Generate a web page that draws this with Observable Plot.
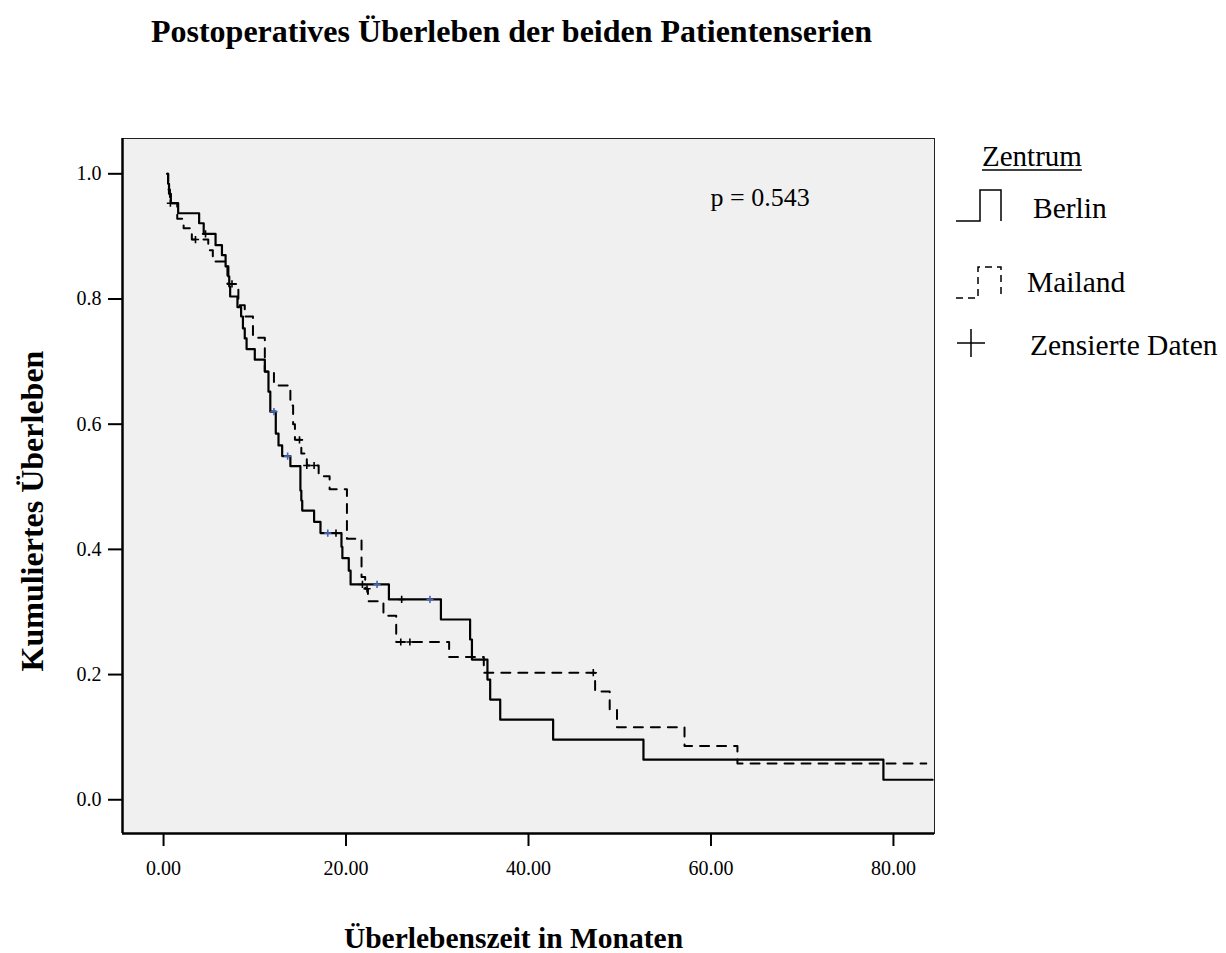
<!DOCTYPE html>
<html><head><meta charset="utf-8">
<script src="https://cdn.jsdelivr.net/npm/d3@7"></script>
<script src="https://cdn.jsdelivr.net/npm/@observablehq/plot@0.6"></script>
<style>
body{margin:0;background:#fff;font-family:"Liberation Serif","Times New Roman",serif;color:#000;}
#wrap{position:relative;width:1226px;height:953px;}
#title{height:60px;width:1023px;text-align:center;line-height:62px;font-weight:bold;font-size:32px;}
#legend{position:absolute;left:940px;top:120px;overflow:visible;}
</style></head><body>
<div id="wrap"><div id="title">Postoperatives Überleben der beiden Patientenserien</div><div id="chart"></div><svg id="legend" width="286" height="260"></svg></div>
<script>
// axis ticks and domains
const xTicks = [0, 20, 40, 60, 80];
const yTicks = [0, 0.2, 0.4, 0.6, 0.8, 1.0];
const xDomain = [-4.5, 84.5];
const yDomain = [-0.0539, 1.0564];

// Berlin Kaplan-Meier steps (month, cumulative survival after step)
const berlinTime = [0.4,0.5,0.6,0.8,1.6,3.9,4.4,5.7,6.4,6.8,7.1,7.2,7.3,8.1,8.5,8.7,8.9,9.1,10.0,11.1,11.5,11.7,12.3,12.6,13.0,13.9,15.0,15.1,15.2,16.5,17.2,19.5,19.6,20.3,20.5,24.7,30.4,33.6,33.8,35.5,35.8,36.9,42.7,52.6,78.9,84.3];
const berlinSurv = [1.0,0.984,0.968,0.953,0.937,0.921,0.904,0.886,0.870,0.852,0.836,0.820,0.804,0.787,0.772,0.753,0.737,0.720,0.703,0.684,0.652,0.620,0.585,0.566,0.549,0.533,0.494,0.478,0.462,0.444,0.426,0.404,0.386,0.366,0.344,0.320,0.288,0.256,0.224,0.192,0.160,0.128,0.096,0.064,0.032,0.032];
const berlinCensored = [4.6, 18.9, 21.8, 26.1];
const berlinCensoredBlue = [12.1, 13.6, 18.0, 23.4, 29.2];

// Mailand Kaplan-Meier steps
const mailandTime = [0.4,0.5,0.7,1.5,2.2,3.1,4.9,5.4,7.0,8.2,8.9,9.8,11.1,12.1,13.9,14.2,14.4,15.1,15.7,17.0,18.2,20.1,21.7,22.1,22.4,24.1,25.5,31.3,35.1,47.3,48.9,49.7,57.1,62.9,83.6];
const mailandSurv = [1.0,0.975,0.953,0.928,0.913,0.895,0.878,0.860,0.824,0.790,0.772,0.738,0.684,0.662,0.630,0.600,0.575,0.553,0.534,0.517,0.496,0.417,0.356,0.337,0.317,0.294,0.252,0.228,0.203,0.173,0.144,0.116,0.086,0.058,0.058];
const mailandCensored = [0.75, 3.5, 7.5, 14.9, 15.7, 16.5, 22.3, 26.0, 27.0, 47.1];

const titleX = "Überlebenszeit in Monaten";
const titleY = "Kumuliertes Überleben";
const pText = "p = 0.543";
const legendTitle = "Zentrum";
const groups = ["Berlin", "Mailand"];
const censorLabel = "Zensierte Daten";

const toRows = (T, S) => T.map((t, i) => ({t, s: S[i]}));
const survAt = (T, S) => t => ({t, s: S[d3.bisectRight(T, t) - 1]});
const berlin = toRows(berlinTime, berlinSurv);
const mailand = toRows(mailandTime, mailandSurv);
const bC = berlinCensored.map(survAt(berlinTime, berlinSurv));
const bCB = berlinCensoredBlue.map(survAt(berlinTime, berlinSurv));
const mC = mailandCensored.map(survAt(mailandTime, mailandSurv));

const plusSymbol = {draw(ctx, size) { const r = Math.sqrt(size / Math.PI); ctx.moveTo(-r, 0); ctx.lineTo(r, 0); ctx.moveTo(0, -r); ctx.lineTo(0, r); }};

const chart = Plot.plot({
  width: 1226, height: 893,
  marginLeft: 122, marginRight: 292, marginTop: 78, marginBottom: 120,
  x: {domain: xDomain},
  y: {domain: yDomain},
  style: {fontFamily: "Liberation Serif, Times New Roman, serif", fontSize: "20px", background: "transparent", color: "#000", overflow: "visible"},
  marks: [
    Plot.frame({fill: "#f0f0f0", stroke: "#222", strokeWidth: 1}),
    Plot.ruleX([xDomain[0]], {stroke: "#000", strokeWidth: 2.5}),
    Plot.ruleY([yDomain[0]], {stroke: "#000", strokeWidth: 2.5}),
    Plot.axisX(xTicks, {tickFormat: d3.format(".2f"), tickSize: 13, tickPadding: 14, strokeWidth: 2, label: null, fontSize: 20}),
    Plot.axisY(yTicks, {tickFormat: d3.format(".1f"), tickSize: 14, tickPadding: 7, strokeWidth: 2, label: null, fontSize: 20}),
    Plot.line(mailand, {x: "t", y: "s", curve: "step-after", stroke: "#000", strokeWidth: 2, strokeDasharray: "9,8"}),
    Plot.line(berlin, {x: "t", y: "s", curve: "step-after", stroke: "#000", strokeWidth: 2.2}),
    Plot.dot(mC, {x: "t", y: "s", symbol: plusSymbol, r: 3.6, fill: "none", stroke: "#000", strokeWidth: 1.6}),
    Plot.dot(bC, {x: "t", y: "s", symbol: plusSymbol, r: 3.6, fill: "none", stroke: "#000", strokeWidth: 1.6}),
    Plot.dot(bCB, {x: "t", y: "s", symbol: plusSymbol, r: 3.6, fill: "none", stroke: "#4565b0", strokeWidth: 1.6}),
    Plot.text([pText], {frameAnchor: "top-left", dx: 588, dy: 59, textAnchor: "start", lineAnchor: "middle", fontSize: 26}),
    Plot.text([titleX], {frameAnchor: "bottom", dx: -15, dy: 105, textAnchor: "middle", lineAnchor: "middle", fontSize: 29.5, fontWeight: "bold"}),
    Plot.text([titleY], {frameAnchor: "left", dx: -90, dy: 25, rotate: -90, textAnchor: "middle", lineAnchor: "middle", fontSize: 32, fontWeight: "bold"})
  ]
});
document.getElementById("chart").appendChild(chart);

// legend
const lg = d3.select("#legend").style("font-family", "Liberation Serif, Times New Roman, serif");
const zt = lg.append("text").attr("x", 42).attr("y", 46).attr("font-size", 29).text(legendTitle);
const zw = zt.node().getComputedTextLength();
lg.append("line").attr("x1", 42).attr("x2", 42 + zw).attr("y1", 50).attr("y2", 50).attr("stroke", "#000").attr("stroke-width", 1.5);
lg.append("path").attr("d", "M16,101H40V70H61V101").attr("fill", "none").attr("stroke", "#000").attr("stroke-width", 1.5);
lg.append("text").attr("x", 93).attr("y", 98).attr("font-size", 29.5).text(groups[0]);
lg.append("path").attr("d", "M16,178H38V147H61V178").attr("fill", "none").attr("stroke", "#000").attr("stroke-width", 1.5).attr("stroke-dasharray", "7,5");
lg.append("text").attr("x", 87).attr("y", 172).attr("font-size", 29.5).text(groups[1]);
lg.append("path").attr("d", "M17,223H45M31,209V237").attr("fill", "none").attr("stroke", "#000").attr("stroke-width", 1.5);
lg.append("text").attr("x", 90).attr("y", 235).attr("font-size", 29.5).text(censorLabel);
</script>
</body></html>
